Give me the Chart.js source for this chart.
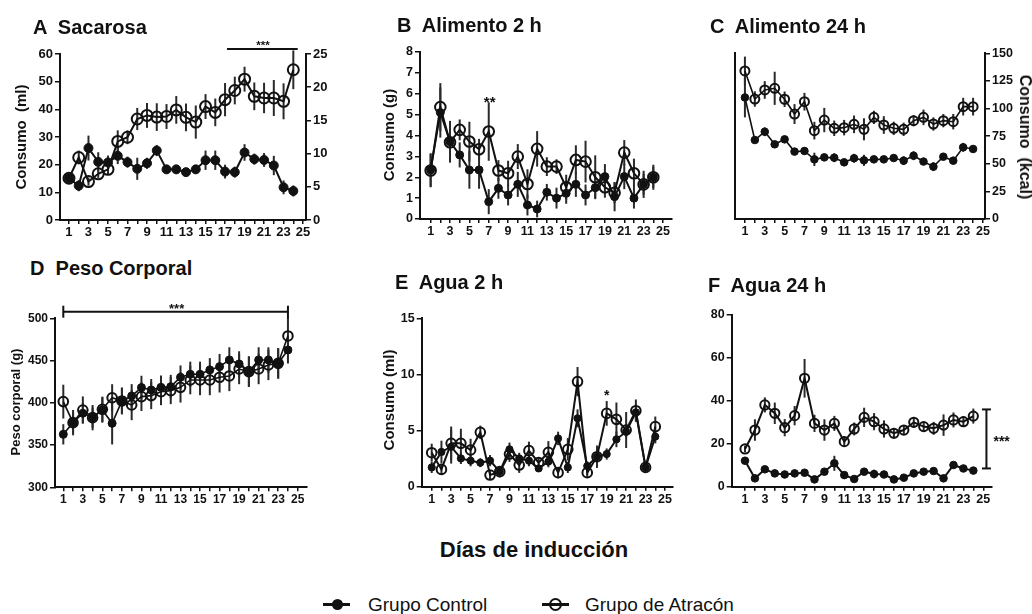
<!DOCTYPE html>
<html><head><meta charset="utf-8">
<script src="https://cdn.jsdelivr.net/npm/chart.js@4.4.1/dist/chart.umd.min.js"></script>
<style>
html,body{margin:0;padding:0;background:#fff;}
#wrap{position:relative;width:1032px;height:614px;overflow:hidden;font-family:"Liberation Sans",Arial,sans-serif;color:#111;background:#fff;}
canvas{position:absolute;}
.t{position:absolute;white-space:pre;line-height:1;font-weight:bold;}
.ptitle{font-size:20px;transform:translateY(-50%);}
.rot{transform:translate(-50%,-50%) rotate(-90deg);}
.rotc{transform:translate(-50%,-50%) rotate(90deg);}
.leg{position:absolute;top:604px;transform:translateY(-50%);font-size:19px;font-weight:normal;white-space:nowrap;line-height:1;}
.lline{position:absolute;height:3px;background:#111;top:602.5px;width:27px;}
.ldot{position:absolute;border-radius:50%;}
</style></head><body><div id="wrap">
<canvas id="cA" width="340" height="230" style="left:0px;top:20px"></canvas>
<canvas id="cB" width="340" height="230" style="left:340px;top:20px"></canvas>
<canvas id="cC" width="352" height="230" style="left:680px;top:20px"></canvas>
<canvas id="cD" width="340" height="225" style="left:0px;top:290px"></canvas>
<canvas id="cE" width="340" height="225" style="left:340px;top:290px"></canvas>
<canvas id="cF" width="352" height="225" style="left:680px;top:290px"></canvas>

<div class="t ptitle" style="left:33px;top:27px">A  Sacarosa</div>
<div class="t ptitle" style="left:397px;top:25px">B  Alimento 2 h</div>
<div class="t ptitle" style="left:710px;top:26px">C  Alimento 24 h</div>
<div class="t ptitle" style="left:30px;top:268px">D  Peso Corporal</div>
<div class="t ptitle" style="left:395px;top:282px">E  Agua 2 h</div>
<div class="t ptitle" style="left:708px;top:285px">F  Agua 24 h</div>

<div class="t rot" style="left:20px;top:137px;font-size:15px">Consumo  (ml)</div>
<div class="t rot" style="left:388px;top:135px;font-size:15px">Consumo (g)</div>
<div class="t rotc" style="left:1025px;top:137px;font-size:16px">Consumo  (kcal)</div>
<div class="t rot" style="left:15px;top:402px;font-size:13px">Peso corporal (g)</div>
<div class="t rot" style="left:388px;top:400px;font-size:15px">Consumo (ml)</div>

<div class="t" style="left:534px;top:550px;font-size:22px;transform:translate(-50%,-50%)">Días de inducción</div>

<div class="lline" style="left:323px"></div>
<div class="ldot" style="left:331.5px;top:598.5px;width:11px;height:11px;background:#111"></div>
<div class="leg" style="left:368px">Grupo Control</div>
<div class="lline" style="left:541.5px"></div>
<div class="ldot" style="left:548.5px;top:597.5px;width:9px;height:9px;border:2.5px solid #111;background:transparent"></div>
<div class="leg" style="left:585px">Grupo de Atracón</div>
</div>
<script>
// ---------- DATA ----------
const days = [1,2,3,4,5,6,7,8,9,10,11,12,13,14,15,16,17,18,19,20,21,22,23,24];
const xTickValues = [1,2,3,4,5,6,7,8,9,10,11,12,13,14,15,16,17,18,19,20,21,22,23,24,25];
const xTickLabels = ['1','3','5','7','9','11','13','15','17','19','21','23','25'];
const seriesNames = ['Grupo Control','Grupo de Atracón'];

// A Sacarosa (ml)
const sacControl    = [15.1,12.4,26.0,21.0,20.8,23.2,20.9,18.5,20.5,25.1,18.3,18.3,17.3,18.3,21.6,21.6,17.5,17.3,24.4,22.0,21.7,19.7,11.8,10.5];
const sacControlErr = [1.5,2,4.5,3.5,2.5,3,2,4,2,2,1.5,1.5,1,1.5,3.5,3.5,2.5,2,3,2,2.5,3.5,2.5,2];
const sacAtracon    = [15.1,22.6,13.9,16.7,18.3,28.4,29.9,36.5,37.8,37.2,37.4,39.8,37.1,35.4,41.0,38.9,43.5,46.8,50.9,44.7,44.1,44.1,42.9,54.3];
const sacAtraconErr = [1,2.5,1.5,1.5,2,4,2.5,4,4.5,5,4.5,5,5,6,4.5,5,6,5,4.5,5,5.5,6.5,6.5,7];
const sacTicksLeft  = [0,10,20,30,40,50,60];
const sacTicksRight = [0,5,10,15,20,25];

// B Alimento 2 h (g)
const ali2Control    = [2.35,5.1,3.7,3.07,2.35,2.35,0.83,1.47,1.15,1.66,0.67,0.48,1.28,1.0,1.23,1.66,1.15,1.5,2.03,1.07,2.03,1.0,1.66,2.0];
const ali2ControlErr = [0.8,1.2,1,0.6,0.9,0.9,0.6,0.5,0.5,0.6,0.5,0.4,0.4,0.5,0.5,0.6,0.5,0.5,0.6,0.7,0.6,0.5,0.5,0.6];
const ali2Atracon    = [2.32,5.36,3.68,4.27,3.71,3.34,4.19,2.32,2.19,2.99,1.68,3.36,2.51,2.51,1.52,2.83,2.75,2.0,1.52,1.26,3.18,2.19,1.66,2.0];
const ali2AtraconErr = [0.8,1.15,0.9,0.5,0.95,0.5,1.4,0.5,0.6,0.6,0.7,0.85,0.45,0.35,0.6,0.7,1.0,1.05,0.5,0.5,0.6,0.7,0.65,0.5];
const ali2Ticks = [0,1,2,3,4,5,6,7,8];

// C Alimento 24 h (kcal)
const ali24Control    = [110,71.5,79,67.6,72.1,61,61.6,54,55.8,55.5,51.3,55,53.1,54,54,55.2,52.8,57.3,52,47.4,56.4,52.8,64.9,63.4];
const ali24ControlErr = [18,3,4,3,3,3,3,6,3,4,3,4,5,3,3,3,4,4,3,4,3,3,4,3];
const ali24Atracon    = [134,108.6,116.8,118.3,108.4,95,106.2,80,89.6,82.1,82.7,85.7,81.2,92,85.1,82.1,81.2,89,92,86,89,88.1,101.7,101.7];
const ali24AtraconErr = [13,7,8,15,7,9,8,8,11,7,7,8,10,6,8,6,6,5,7,6,6,7,8,8];
const ali24Ticks = [0,25,50,75,100,125,150];

// D Peso corporal (g)
const pesoControl    = [362.7,376.5,387.6,382.4,391.5,375.7,402.2,408.1,418,415.2,418.3,419.1,430.2,433.7,433.7,438.9,442.8,450.7,446,436.9,450.7,450.7,446.7,462.5];
const pesoControlErr = [12,15,12,15,15,25,16,14,14,13,14,14,14,15,15,14,15,15,15,18,15,15,18,16];
const pesoAtracon    = [401.4,376.5,391.5,382.4,392.3,406,402.2,397.4,407.3,408.5,413.2,414.4,418.3,427,427,427,430.2,431.8,440,436.9,440,444.8,446.7,479.1];
const pesoAtraconErr = [20,12,16,12,15,16,15,18,17,16,16,16,18,17,18,18,18,18,18,18,18,18,18,20];
const pesoTicks = [300,350,400,450,500];

// E Agua 2 h (ml)
const agua2Control    = [1.72,3.1,3.56,2.52,2.32,2.14,2.32,1.34,3.33,2.52,2.32,1.63,2.23,4.3,1.72,6.09,1.84,2.67,2.91,4.22,4.9,6.62,1.72,4.46];
const agua2ControlErr = [0.5,1.0,1.5,0.5,0.5,0.4,0.5,0.4,0.6,0.5,0.5,0.3,0.5,0.6,0.5,0.8,0.4,0.6,0.5,0.7,0.5,0.7,0.3,0.6];
const agua2Atracon    = [3.03,1.54,3.86,3.86,3.27,4.84,1.04,1.34,2.91,1.93,3.21,2.14,3.06,1.25,3.33,9.36,1.25,2.67,6.53,6.0,5.05,6.77,1.72,5.35];
const agua2AtraconErr = [0.8,0.5,1.5,1.3,1.0,0.6,0.4,0.5,0.7,0.7,0.8,0.5,1.0,0.5,1.0,1.3,0.4,1.0,1.1,1.5,1.6,1.0,0.4,0.9];
const agua2Ticks = [0,5,10,15];

// F Agua 24 h (ml)
const agua24Control    = [12.1,3.9,8.1,6.2,5.7,6.2,6.5,3.4,7.0,10.9,5.4,3.6,7.0,5.9,5.7,3.4,4.2,6.2,7.0,7.3,3.9,10.1,8.5,7.5];
const agua24ControlErr = [1.5,1,1.5,1,1,1,1,1,1.5,3.5,1,1,1,2,1.5,1,1,1.5,1,1,1,1,1,1];
const agua24Atracon    = [17.6,26.4,38.1,34.2,27.5,33.1,50.5,29.5,26.4,29.5,21,26.9,32.3,30.3,26.9,24.9,26.4,30,28,27.2,28.7,31.1,30.3,32.9];
const agua24AtraconErr = [1.5,5,3.5,5,4,4.5,9,4,5,3.5,2.5,3,4.5,4,4,2.5,2,2.5,2,3,5,3.5,2.5,3.5];
const agua24Ticks = [0,20,40,60,80];

// ---------- RENDERING ----------
const INK = '#111';
const FONT = '"Liberation Sans", Arial, sans-serif';

const errorBarPlugin = {
  id: 'errbars',
  beforeDatasetsDraw(chart) {
    const ctx = chart.ctx;
    const xs = chart.scales.x;
    chart.data.datasets.forEach((ds, i) => {
      if (!ds.errors) return;
      const ys = chart.scales[chart.getDatasetMeta(i).yAxisID];
      ctx.save();
      ctx.strokeStyle = '#2a2a2a';
      ctx.lineWidth = ds.errWidth || 2;
      ds.data.forEach((p, j) => {
        const x = xs.getPixelForValue(p.x);
        ctx.beginPath();
        ctx.moveTo(x, ys.getPixelForValue(p.y - ds.errors[j]));
        ctx.lineTo(x, ys.getPixelForValue(p.y + ds.errors[j]));
        ctx.stroke();
      });
      ctx.restore();
    });
  }
};

function stars(ctx, text, x, yCenter, size) {
  ctx.save();
  ctx.fillStyle = INK;
  ctx.font = 'bold ' + size + 'px ' + FONT;
  ctx.textAlign = 'center';
  ctx.textBaseline = 'alphabetic';
  ctx.fillText(text, x, yCenter + 0.58 * size);
  ctx.restore();
}
function seg(ctx, x1, y1, x2, y2, w) {
  ctx.save(); ctx.strokeStyle = INK; ctx.lineWidth = w || 1.8;
  ctx.beginPath(); ctx.moveTo(x1, y1); ctx.lineTo(x2, y2); ctx.stroke(); ctx.restore();
}

function makePanel(id, c) {
  const leftW = c.leftW, rightW = c.rightW || 0, xH = 22;
  const pad = {
    left: c.area.x1 - c.rect.l - leftW,
    right: (c.rect.l + c.rect.w) - c.area.x2 - rightW,
    top: c.area.y1 - c.rect.t,
    bottom: (c.rect.t + c.rect.h) - c.area.y2 - xH
  };
  const tickFont = {family: FONT, size: c.tickSize || 12.5, weight: 'bold'};
  const scales = {
    x: {
      type: 'linear', min: c.xMin, max: c.xMax,
      afterBuildTicks: s => { s.ticks = xTickValues.map(v => ({value: v})); },
      afterFit: s => { s.height = xH; },
      ticks: {autoSkip: false, maxRotation: 0, minRotation: 0, padding: 1, color: INK, font: tickFont,
        callback: v => xTickLabels.includes(String(v)) ? String(v) : ''},
      grid: {drawOnChartArea: false, drawTicks: true, tickLength: 4, color: INK, lineWidth: 1.5},
      border: {display: true, color: INK, width: 2}
    },
    y: {
      type: 'linear', position: 'left', min: c.yMin, max: c.yMax,
      afterBuildTicks: s => { s.ticks = (c.yTicks || []).map(v => ({value: v})); },
      afterFit: s => { s.width = leftW; },
      ticks: {display: !!c.yTicks, padding: 2, color: INK, font: tickFont},
      grid: {display: !!c.yTicks, drawOnChartArea: false, drawTicks: true, tickLength: 5, color: INK, lineWidth: 1.5},
      border: {display: true, color: INK, width: 2}
    }
  };
  let dataAxis = 'y';
  if (c.rTicks) {
    scales.y1 = {
      type: 'linear', position: 'right', min: c.rMin, max: c.rMax,
      afterBuildTicks: s => { s.ticks = c.rTicks.map(v => ({value: v})); },
      afterFit: s => { s.width = rightW; },
      ticks: {padding: 2, color: INK, font: tickFont},
      grid: {drawOnChartArea: false, drawTicks: true, tickLength: 5, color: INK, lineWidth: 1.5},
      border: {display: true, color: INK, width: 2}
    };
    if (c.dataOnRight) dataAxis = 'y1';
  }
  const toPts = arr => days.map((d, i) => ({x: d, y: arr[i]}));
  const datasets = [
    {label: seriesNames[1], data: toPts(c.atr), errors: c.atrErr, yAxisID: dataAxis,
     borderColor: INK, borderWidth: c.lw || 2, pointRadius: c.rA, pointBorderWidth: 2,
     pointBackgroundColor: 'rgba(0,0,0,0)', pointBorderColor: INK, tension: 0, clip: false, fill: false},
    {label: seriesNames[0], data: toPts(c.ctrl), errors: c.ctrlErr, yAxisID: dataAxis,
     borderColor: INK, borderWidth: c.lw || 2, pointRadius: c.rC, pointBorderWidth: 1,
     pointBackgroundColor: INK, pointBorderColor: INK, tension: 0, clip: false, fill: false}
  ];
  const annot = {
    id: 'annot_' + id,
    afterDraw(chart) {
      if (c.annot) c.annot(chart.ctx, chart.scales.x, chart.scales[dataAxis]);
    }
  };
  return new Chart(document.getElementById(id), {
    type: 'line',
    data: {datasets},
    options: {
      responsive: false, animation: false, devicePixelRatio: 1,
      layout: {padding: pad},
      plugins: {legend: {display: false}, tooltip: {enabled: false}, title: {display: false}},
      scales
    },
    plugins: [errorBarPlugin, annot]
  });
}

// A
makePanel('cA', {
  rect: {l: 0, t: 20, w: 340, h: 230}, area: {x1: 60, y1: 54, x2: 306, y2: 220},
  leftW: 32, rightW: 30, xMin: 0.08, xMax: 25.3, yMin: 0, yMax: 60, yTicks: sacTicksLeft,
  rTicks: sacTicksRight, rMin: 0, rMax: 25, tickSize: 13,
  ctrl: sacControl, ctrlErr: sacControlErr, atr: sacAtracon, atrErr: sacAtraconErr, rC: 4.5, rA: 5.5, lw: 2,
  annot: (ctx, X, Y) => {
    const y = Y.getPixelForValue(61.8);
    seg(ctx, X.getPixelForValue(17.2), y, X.getPixelForValue(24.45), y, 1.8);
    stars(ctx, '***', X.getPixelForValue(20.9), Y.getPixelForValue(64.2), 11.5);
  }
});
// B
makePanel('cB', {
  rect: {l: 340, t: 20, w: 340, h: 230}, area: {x1: 420, y1: 52, x2: 672, y2: 219},
  leftW: 32, xMin: -0.1, xMax: 25.93, yMin: 0, yMax: 8, yTicks: ali2Ticks,
  ctrl: ali2Control, ctrlErr: ali2ControlErr, atr: ali2Atracon, atrErr: ali2AtraconErr, rC: 4, rA: 5.3, lw: 2,
  annot: (ctx, X, Y) => { stars(ctx, '**', X.getPixelForValue(7.1), Y.getPixelForValue(5.78), 15); }
});
// C
makePanel('cC', {
  rect: {l: 680, t: 20, w: 352, h: 230}, area: {x1: 735, y1: 53.3, x2: 985, y2: 219},
  leftW: 0, rightW: 30, xMin: 0, xMax: 25.2, yMin: 0, yMax: 150, yTicks: null,
  rTicks: ali24Ticks, rMin: 0, rMax: 150, dataOnRight: true,
  ctrl: ali24Control, ctrlErr: ali24ControlErr, atr: ali24Atracon, atrErr: ali24AtraconErr, rC: 3.8, rA: 4.5, lw: 1.6
});
// D
makePanel('cD', {
  rect: {l: 0, t: 290, w: 340, h: 225}, area: {x1: 55, y1: 318.3, x2: 306.7, y2: 487.3},
  leftW: 32, xMin: 0.15, xMax: 25.92, yMin: 300, yMax: 500, yTicks: pesoTicks, tickSize: 12,
  ctrl: pesoControl, ctrlErr: pesoControlErr, atr: pesoAtracon, atrErr: pesoAtraconErr, rC: 4, rA: 4.8, lw: 1.6,
  annot: (ctx, X, Y) => {
    const y = Y.getPixelForValue(507.8);
    const xl = X.getPixelForValue(1), xr = X.getPixelForValue(24);
    seg(ctx, xl, y, xr, y, 2);
    seg(ctx, xl, y - 6, xl, y + 6, 2);
    seg(ctx, xr, y - 6, xr, Y.getPixelForValue(499), 2);
    stars(ctx, '***', X.getPixelForValue(12.6), Y.getPixelForValue(515.7), 13);
  }
});
// E
makePanel('cE', {
  rect: {l: 340, t: 290, w: 340, h: 225}, area: {x1: 421.7, y1: 318.3, x2: 673, y2: 486.7},
  leftW: 32, xMin: -0.03, xMax: 25.82, yMin: 0, yMax: 15, yTicks: agua2Ticks,
  ctrl: agua2Control, ctrlErr: agua2ControlErr, atr: agua2Atracon, atrErr: agua2AtraconErr, rC: 3.6, rA: 4.8, lw: 2,
  annot: (ctx, X, Y) => { stars(ctx, '*', X.getPixelForValue(19), Y.getPixelForValue(8.46), 14); }
});
// F
makePanel('cF', {
  rect: {l: 680, t: 290, w: 352, h: 225}, area: {x1: 731.7, y1: 315, x2: 991.7, y2: 486.7},
  leftW: 32, xMin: -0.34, xMax: 25.85, yMin: 0, yMax: 80, yTicks: agua24Ticks,
  ctrl: agua24Control, ctrlErr: agua24ControlErr, atr: agua24Atracon, atrErr: agua24AtraconErr, rC: 3.8, rA: 4.6, lw: 2,
  annot: (ctx, X, Y) => {
    const x = X.getPixelForValue(25.32);
    const yt = Y.getPixelForValue(36), yb = Y.getPixelForValue(8.5);
    seg(ctx, x, yt, x, yb, 2);
    seg(ctx, x - 4.5, yt, x + 4.5, yt, 2);
    seg(ctx, x - 4.5, yb, x + 4.5, yb, 2);
    stars(ctx, '***', X.getPixelForValue(26.85), Y.getPixelForValue(22.8), 14);
  }
});
</script>
</body></html>
